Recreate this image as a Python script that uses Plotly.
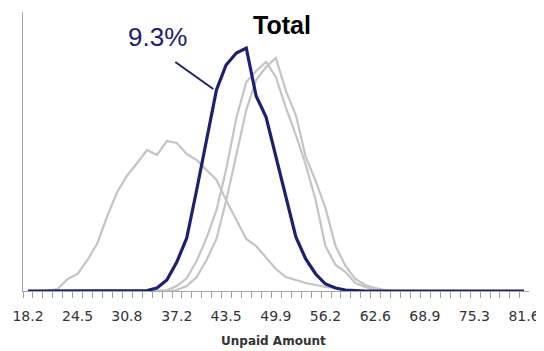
import plotly.graph_objects as go

# Bin centres (Unpaid Amount)
bins = [18.20, 19.47, 20.74, 22.00, 23.27, 24.54, 25.81, 27.08, 28.34, 29.61,
        30.84, 32.15, 33.42, 34.68, 35.95, 37.22, 38.49, 39.76, 41.02, 42.29,
        43.52, 44.83, 46.10, 47.36, 48.63, 49.88, 51.17, 52.44, 53.70, 54.97,
        56.22, 57.51, 58.78, 60.04, 61.31, 62.58, 63.85, 65.12, 66.38, 67.65,
        68.92, 70.19, 71.46, 72.72, 73.99, 75.26, 76.53, 77.80, 79.06, 80.33,
        81.60]
tick_labels = ["18.2", "24.5", "30.8", "37.2", "43.5", "49.9", "56.2",
               "62.6", "68.9", "75.3", "81.6"]

# Frequencies (relative height)
gray_left = [0, 0, 0.5, 2, 12, 17, 31, 48, 75, 99,
             115, 128, 141, 136, 150, 148, 137, 131, 121, 111,
             91, 72, 52, 45, 33, 22, 14, 11, 8, 6,
             4, 3, 1, 0, 0, 0, 0, 0, 0, 0,
             0, 0, 0, 0, 0, 0, 0, 0, 0, 0, 0]
gray_mid = [0, 0, 0, 0, 0, 0, 0, 0, 0, 0,
            0, 0, 0, 0.5, 1, 5, 13, 30, 53, 81,
            121, 173, 209, 220, 229, 214, 183, 156, 126, 91,
            45, 26, 19, 8, 4, 1, 0.3, 0, 0, 0,
            0, 0, 0, 0, 0, 0, 0, 0, 0, 0, 0]
gray_right = [0, 0, 0, 0, 0, 0, 0, 0, 0, 0,
              0, 0, 0, 0, 0, 1, 5, 14, 31, 52,
              90, 136, 181, 211, 224, 233, 200, 176, 134, 110,
              83, 45, 25, 12, 6, 3, 1, 0, 0, 0,
              0, 0, 0, 0, 0, 0, 0, 0, 0, 0, 0]
total = [0, 0, 0, 0, 0, 0, 0, 0, 0, 0,
         0, 0, 0.5, 3, 11, 29, 53, 101, 150, 201,
         226, 238, 243, 195, 174, 134, 96, 54, 32, 17,
         7, 3, 1, 0.3, 0, 0, 0, 0, 0, 0,
         0, 0, 0, 0, 0, 0, 0, 0, 0, 0, 0]

GRAY = "#c4c4c4"
NAVY = "#1d2070"

fig = go.Figure()
for ys in (gray_left, gray_mid, gray_right):
    fig.add_trace(go.Scatter(x=bins, y=ys, mode="lines",
                             line=dict(color=GRAY, width=2.2),
                             hoverinfo="skip", showlegend=False))
fig.add_trace(go.Scatter(x=bins, y=total, mode="lines",
                         line=dict(color=NAVY, width=3.2),
                         showlegend=False))

half = (bins[1] - bins[0]) / 2
fig.update_layout(
    width=536, height=343,
    margin=dict(l=14, r=14, t=4, b=60),
    paper_bgcolor="white", plot_bgcolor="white",
    xaxis=dict(
        range=[bins[0] - half, bins[-1] + half],
        tickvals=bins[::5], ticktext=tick_labels,
        ticks="", showgrid=False, zeroline=False,
        showline=True, linecolor="#a6a6a6", linewidth=1.3,
        ticklabelstandoff=12,
        tickfont=dict(family="DejaVu Sans", size=14, color="#333333"),
        minor=dict(ticks="outside", ticklen=6, tickcolor="#a0a0a0", tickwidth=1.2,
                   tick0=bins[0] - half, dtick=bins[1] - bins[0], showgrid=False),
    ),
    yaxis=dict(
        range=[0, 279], showticklabels=False, ticks="", showgrid=False,
        zeroline=False, showline=True, linecolor="#a6a6a6", linewidth=1.3,
    ),
    annotations=[
        dict(text="<b>Total</b>", xref="paper", yref="paper", x=0.512, y=1.012,
             xanchor="center", yanchor="top", showarrow=False,
             font=dict(family="Liberation Sans", size=25, color="black")),
        dict(text="9.3%", xref="paper", yref="paper", x=0.266, y=0.91,
             xanchor="center", yanchor="middle", showarrow=False,
             font=dict(family="Liberation Sans", size=26, color=NAVY)),
        dict(text="<b>Unpaid Amount</b>", xref="paper", yref="paper", x=0.496, y=-0.179,
             xanchor="center", yanchor="middle", showarrow=False,
             font=dict(family="DejaVu Sans", size=12, color="#333333")),
    ],
    shapes=[
        dict(type="line", xref="paper", yref="paper", x0=0.301, y0=0.821,
             x1=0.376, y1=0.724, line=dict(color=NAVY, width=2)),
    ],
)

fig.write_html("out.html")
